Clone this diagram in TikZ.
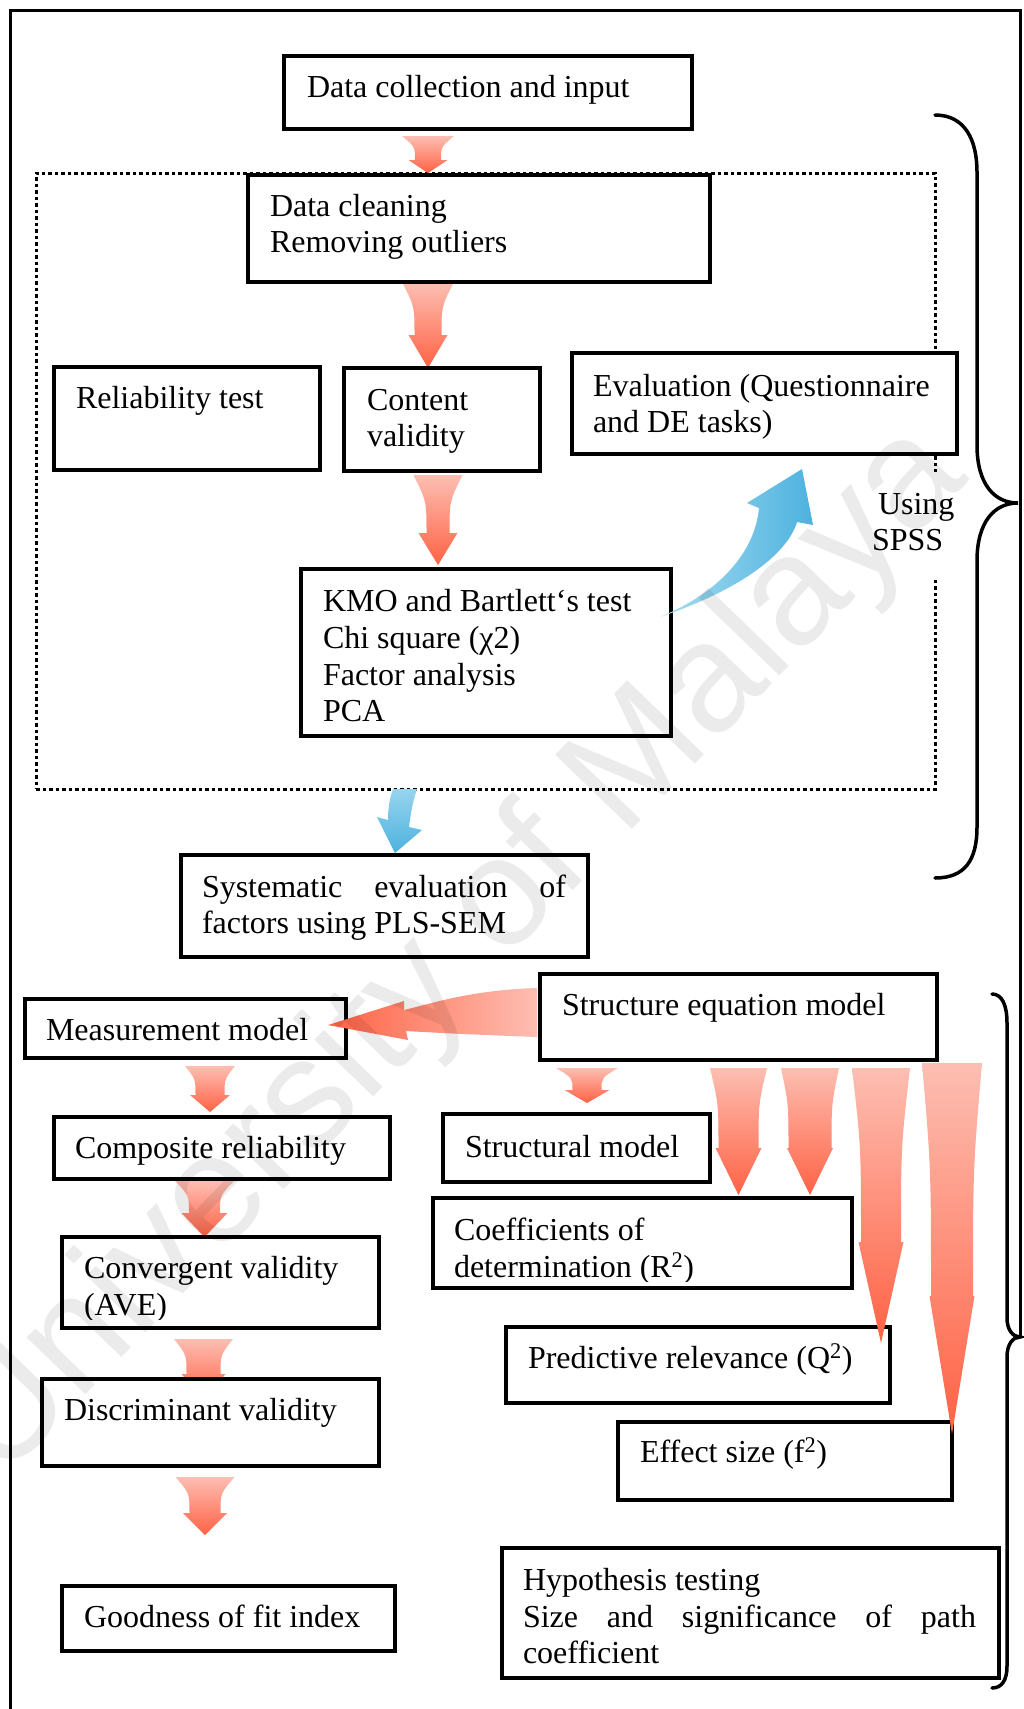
\documentclass[tikz,border=0pt]{standalone}
\usepackage{fontspec}
\setmainfont{Liberation Serif}
\newfontfamily\wmfont{Liberation Sans}
\usetikzlibrary{shadings}

\definecolor{redtop}{RGB}{253,190,178}
\definecolor{redbot}{RGB}{255,98,68}
\definecolor{bluelight}{RGB}{170,221,241}
\definecolor{bluedark}{RGB}{76,178,223}

% rectangle node given by its corners (x1,y1)-(x2,y2)
\newcommand\flowbox[5]{%
  \node[box, anchor=north west, minimum width={(#4)-(#2)}, minimum height={(#5)-(#3)}] (#1) at (#2,#3) {};}

% tapered block arrow pointing down:
% #1 centre x, #2 top y, #3 top half-width, #4 neck y, #5 neck half-width,
% #6 head half-width, #7 tip y, #8 style
\newcommand\taperarrow[8]{%
  \path[#8] ({#1-#3},#2) .. controls ({#1-#5},{#2+0.45*(#4-#2)}) .. ({#1-#5},#4)
    -- ({#1-#6},#4) -- (#1,#7) -- ({#1+#6},#4) -- ({#1+#5},#4)
    .. controls ({#1+#5},{#2+0.45*(#4-#2)}) .. ({#1+#3},#2) -- cycle;}

\begin{document}
\begin{tikzpicture}[x=1pt, y=-1pt,
  box/.style={draw=black, line width=3.5pt, fill=white, inner sep=0pt, outer sep=0pt},
  lbl/.style={anchor=base west, inner sep=0pt, outer sep=0pt, font=\fontsize{32}{37}\selectfont},
  redarrow/.style={top color=redtop, bottom color=redbot, draw=none},
  bracestyle/.style={draw=black, line width=3.5pt, line cap=round}]

\useasboundingbox (0,0) rectangle (1024,1709);
\fill[white] (0,0) rectangle (1024,1709);

% outer frame
\draw[line width=3pt] (1020,1337) -- (1020,10) -- (10,10) -- (10,1720);

% dotted group of the SPSS steps
\node[draw=black, line width=3pt, dash pattern=on 3.5pt off 3pt, anchor=north west,
  minimum width=899, minimum height=616, inner sep=0pt, outer sep=0pt] (grp) at (36,173) {};

% braces on the right
\draw[bracestyle] (935,115) .. controls (965,115) and (977,140) .. (977,172) -- (977,445)
  .. controls (977,485) and (995,503) .. (1018,503)
  .. controls (995,503) and (977,521) .. (977,561) -- (977,827)
  .. controls (977,860) and (965,878) .. (935,878);
\draw[bracestyle] (992,994) .. controls (1002,994) and (1007,1005) .. (1007,1023) -- (1007,1318)
  .. controls (1007,1330) and (1013,1337) .. (1020,1337)
  .. controls (1013,1337) and (1007,1344) .. (1007,1357) -- (1007,1666)
  .. controls (1007,1680) and (1002,1688) .. (992,1688);

% block arrows lying under the boxes
\taperarrow{428}{136}{26}{160}{13}{19.5}{173}{redarrow}
\taperarrow{428}{283}{25.5}{335}{13.5}{19.5}{368}{redarrow}
\taperarrow{438}{475}{24.5}{533}{11.5}{19.5}{565}{redarrow}
\taperarrow{210}{1066}{25}{1095}{14.5}{20}{1112}{redarrow}
\taperarrow{587}{1068}{31}{1090}{14.5}{22.5}{1103}{redarrow}
\taperarrow{204.5}{1181}{29.5}{1213}{15.5}{23}{1237}{redarrow}
\taperarrow{203.5}{1339}{29.5}{1374}{17}{22}{1400}{redarrow}
\taperarrow{205}{1477}{29.5}{1513}{15.5}{22}{1535}{redarrow}

% blue arrow from the group to the PLS-SEM step
\path[top color=bluelight!80!bluedark, bottom color=bluedark, draw=none]
  (393,789) .. controls (389,800) and (388,810) .. (388,820) -- (377,817) -- (395,853)
  -- (422,830) -- (409,827) .. controls (411,810) and (414,798) .. (417,789) -- cycle;

% boxes
\flowbox{dc}{284}{56}{692}{129}
\flowbox{clean}{248}{175}{710}{282}
\flowbox{rel}{54}{367}{320}{470}
\flowbox{content}{344}{368}{540}{471}
\flowbox{eval}{572}{353}{957}{454}
\flowbox{kmo}{301}{569}{671}{736}
\flowbox{sys}{181}{855}{588}{957}
\flowbox{sem}{540}{974}{937}{1060}
\flowbox{mm}{25}{999}{346}{1058}
\flowbox{cr}{54}{1117}{390}{1179}
\flowbox{sm}{443}{1114}{710}{1182}
\flowbox{coef}{433}{1198}{852}{1288}
\flowbox{cv}{62}{1237}{379}{1328}
\flowbox{pr}{506}{1327}{890}{1403}
\flowbox{dv}{42}{1379}{379}{1466}
\flowbox{es}{618}{1422}{952}{1500}
\flowbox{gof}{62}{1586}{395}{1651}
\flowbox{ht}{502}{1548}{999}{1678}

% label beside the dotted group
\node[fill=white, anchor=north west, minimum width=92, minimum height=106, inner sep=0pt] (spss) at (866,472) {};
\node[lbl] (spss-a) at (878,514) {Using};
\node[lbl] (spss-b) at (872,550) {SPSS};

% box texts
\node[lbl] (dc-t) at (307,97) {Data collection and input};
\node[lbl] (clean-a) at (270,216) {Data cleaning};
\node[lbl] (clean-b) at (270,252) {Removing outliers};
\node[lbl] (rel-t) at (76,408) {Reliability test};
\node[lbl] (content-a) at (367,410) {Content};
\node[lbl] (content-b) at (367,446) {validity};
\node[lbl] (eval-a) at (593,396) {Evaluation (Questionnaire};
\node[lbl] (eval-b) at (593,432) {and DE tasks)};
\node[lbl] (kmo-a) at (323,611) {KMO and Bartlett‘s test};
\node[lbl] (kmo-b) at (323,648) {Chi square (χ2)};
\node[lbl] (kmo-c) at (323,685) {Factor analysis};
\node[lbl] (kmo-d) at (323,721) {PCA};
\node[lbl] (sys-a) at (202,897) {\makebox[364pt][s]{Systematic evaluation of}};
\node[lbl] (sys-b) at (202,933) {factors using PLS-SEM};
\node[lbl] (sem-t) at (562,1015) {Structure equation model};
\node[lbl] (mm-t) at (46,1040) {Measurement model};
\node[lbl] (cr-t) at (75,1158) {Composite reliability};
\node[lbl] (sm-t) at (465,1157) {Structural model};
\node[lbl] (coef-a) at (454,1240) {Coefficients of};
\begin{scope}
  \clip (435,1200) rectangle (850,1281);
  \node[lbl] (coef-b) at (454,1277) {determination (R\textsuperscript{2})};
\end{scope}
\node[lbl] (cv-a) at (84,1278) {Convergent validity};
\begin{scope}
  \clip (64,1239) rectangle (377,1319);
  \node[lbl] (cv-b) at (84,1315) {(AVE)};
\end{scope}
\node[lbl] (pr-t) at (528,1368) {Predictive relevance (Q\textsuperscript{2})};
\node[lbl] (dv-t) at (64,1420) {Discriminant validity};
\node[lbl] (es-t) at (640,1462) {Effect size (f\textsuperscript{2})};
\node[lbl] (gof-t) at (84,1627) {Goodness of fit index};
\node[lbl] (ht-a) at (523,1590) {Hypothesis testing};
\node[lbl] (ht-b) at (523,1627) {\makebox[453pt][s]{Size and significance of path}};
\node[lbl] (ht-c) at (523,1663) {coefficient};

% block arrows lying over the boxes
\path[left color=redbot, right color=redtop, draw=none]
  (537,988) .. controls (470,990) and (430,1004) .. (404,1010) -- (404,1001) -- (328,1025)
  -- (408,1040) -- (406,1031) .. controls (460,1034) .. (537,1037) -- cycle;
\taperarrow{738.5}{1068}{28.5}{1148}{20}{23}{1195}{redarrow}
\taperarrow{810}{1068}{29}{1148}{21.5}{23}{1195}{redarrow}
\taperarrow{881}{1068}{29}{1242}{20}{22.5}{1343}{redarrow}
\taperarrow{952}{1063}{30}{1296}{21}{22.5}{1434}{redarrow}
\path[left color=bluelight, right color=bluedark, draw=none]
  (660,617) .. controls (720,592) and (755,552) .. (759,508) -- (747,503) -- (802,469)
  -- (813,525) -- (797,522) .. controls (788,552) and (745,588) .. (660,617) -- cycle;

% repository watermark
\node[rotate=46, text=black, opacity=0.08, inner sep=0pt,
  font=\wmfont\fontsize{155}{155}\selectfont] (wm) at (457,953) {University of Malaya};
\end{tikzpicture}
\end{document}
